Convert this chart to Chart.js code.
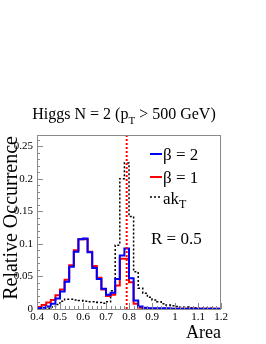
<!DOCTYPE html>
<html>
<head>
<meta charset="utf-8">
<script src="https://cdn.jsdelivr.net/npm/chart.js@4.4.0/dist/chart.umd.min.js"></script>
<style>
  html, body { margin: 0; padding: 0; background: #fff; }
</style>
</head>
<body>
<canvas id="myChart" width="266" height="344"></canvas>
<script>
// bin edges of the Area histogram (40 bins of 0.02)
const binEdges = [0.40, 0.42, 0.44, 0.46, 0.48, 0.50, 0.52, 0.54, 0.56, 0.58,
                  0.60, 0.62, 0.64, 0.66, 0.68, 0.70, 0.72, 0.74, 0.76, 0.78,
                  0.80, 0.82, 0.84, 0.86, 0.88, 0.90, 0.92, 0.94, 0.96, 0.98,
                  1.00, 1.02, 1.04, 1.06, 1.08, 1.10, 1.12, 1.14, 1.16, 1.18, 1.20];

const beta2 = [0.001, 0.002, 0.004, 0.008, 0.016, 0.027, 0.042, 0.065, 0.088, 0.107,
               0.108, 0.087, 0.063, 0.046, 0.031, 0.022, 0.025, 0.046, 0.082, 0.093,
               0.047, 0.013, 0.004, 0.002, 0.001, 0.001, 0.001, 0.001, 0.001, 0.0005,
               0.0005, 0.0005, 0.0005, 0.0005, 0.0005, 0.0005, 0.0005, 0.0005, 0.0005, 0.0005];

const beta1 = [0.003, 0.006, 0.010, 0.014, 0.021, 0.030, 0.045, 0.067, 0.090, 0.107,
               0.107, 0.088, 0.066, 0.048, 0.030, 0.020, 0.022, 0.036, 0.077, 0.077,
               0.041, 0.008, 0.002, 0.001, 0.0005, 0.0005, 0.0005, 0.0005, 0.0005, 0.0005,
               0.0005, 0.0005, 0.0005, 0.0005, 0.0005, 0.0005, 0.0005, 0.0005, 0.0005, 0.0005];

const akT = [0, 0, 0.001, 0.003, 0.007, 0.012, 0.015, 0.015, 0.014, 0.013,
             0.012, 0.011, 0.011, 0.010, 0.009, 0.011, 0.028, 0.098, 0.200, 0.224,
             0.142, 0.057, 0.032, 0.024, 0.018, 0.014, 0.011, 0.008, 0.006, 0.005,
             0.004, 0.003, 0.003, 0.002, 0.002, 0.001, 0.001, 0.001, 0.0005, 0.0005];

const seriesNames = ['\u03b2 = 2', '\u03b2 = 1', 'ak'];
const xTicks = [0.4, 0.5, 0.6, 0.7, 0.8, 0.9, 1.0, 1.1, 1.2];
const yTicks = [0, 0.05, 0.1, 0.15, 0.2, 0.25];
const areaLine = 0.79; // ~ pi * R^2 for R = 0.5
const yMax = 0.267;

const serif = '"Liberation Serif", "DejaVu Serif", serif';

// histogram outline: value i holds from binEdges[i] to binEdges[i+1]
// (stepped 'after' goes up at the previous point, then across to this one)
function toSteps(vals) {
    const pts = [{ x: binEdges[0], y: 0 }];
    vals.forEach((v, i) => pts.push({ x: binEdges[i + 1], y: v }));
    return pts;
}

// frame, inward ticks, title, axis titles and legend (ROOT look)
const rootLook = {
    id: 'rootLook',
    afterDraw(chart) {
        const ctx = chart.ctx;
        const a = chart.chartArea;
        const xs = chart.scales.x;
        const ys = chart.scales.y;
        ctx.save();

        ctx.strokeStyle = '#8a8a8a';
        ctx.lineWidth = 1;
        ctx.strokeRect(a.left + 0.5, a.top + 0.5, a.right - a.left - 1, a.bottom - a.top);

        ctx.beginPath();
        for (let v = 0; v <= yMax + 1e-9; v += 0.01) {
            const y = Math.round(ys.getPixelForValue(v)) + 0.5;
            const major = Math.abs(v / 0.05 - Math.round(v / 0.05)) < 1e-6;
            ctx.moveTo(a.left, y);
            ctx.lineTo(a.left + (major ? 6 : 3), y);
        }
        for (let v = 0.4; v <= 1.2 + 1e-9; v += 0.02) {
            const x = Math.round(xs.getPixelForValue(v)) + 0.5;
            const major = Math.abs(v / 0.1 - Math.round(v / 0.1)) < 1e-6;
            ctx.moveTo(x, a.bottom);
            ctx.lineTo(x, a.bottom - (major ? 6 : 3));
        }
        ctx.stroke();

        ctx.fillStyle = '#000';
        // title with subscript
        ctx.font = '16px ' + serif;
        const t1 = 'Higgs N = 2 (p', t3 = ' > 500 GeV)';
        const w1 = ctx.measureText(t1).width;
        const w3 = ctx.measureText(t3).width;
        ctx.font = '11px ' + serif;
        const w2 = ctx.measureText('T').width;
        let tx = 124 - (w1 + w2 + w3) / 2;
        ctx.textAlign = 'left';
        ctx.textBaseline = 'alphabetic';
        ctx.font = '16px ' + serif;
        ctx.fillText(t1, tx, 119);
        ctx.font = '11px ' + serif;
        ctx.fillText('T', tx + w1, 124);
        ctx.font = '16px ' + serif;
        ctx.fillText(t3, tx + w1 + w2, 119);

        // axis titles
        ctx.font = '18px ' + serif;
        ctx.textAlign = 'right';
        ctx.fillText('Area', a.right, 338);

        ctx.save();
        ctx.translate(17, a.top + 1);
        ctx.rotate(-Math.PI / 2);
        ctx.font = '20px ' + serif;
        ctx.textAlign = 'right';
        ctx.fillText('Relative Occurrence', 0, 0);
        ctx.restore();

        // legend
        const colors = ['#0000ff', '#ff0000', '#000000'];
        const rows = [160, 183, 204];
        const lineY = [154, 177, 197];
        ctx.font = '17px ' + serif;
        ctx.textAlign = 'left';
        for (let i = 0; i < seriesNames.length; i++) {
            ctx.strokeStyle = colors[i];
            ctx.lineWidth = i === 2 ? 1.5 : 2;
            ctx.setLineDash(i === 2 ? [2, 2] : []);
            ctx.beginPath();
            ctx.moveTo(150, lineY[i]);
            ctx.lineTo(162, lineY[i]);
            ctx.stroke();
            ctx.fillText(seriesNames[i], 163, rows[i]);
        }
        ctx.setLineDash([]);
        const akW = ctx.measureText('ak').width;
        ctx.font = '12px ' + serif;
        ctx.fillText('T', 163 + akW, rows[2] + 4);
        ctx.font = '17px ' + serif;
        ctx.fillText('R = 0.5', 151, 244);

        ctx.restore();
    }
};

const ctx = document.getElementById('myChart').getContext('2d');
const myChart = new Chart(ctx, {
    type: 'line',
    data: {
        datasets: [
            {
                label: 'pi R^2',
                data: [{ x: areaLine, y: 0 }, { x: areaLine, y: yMax }],
                borderColor: '#ff0000',
                borderWidth: 2,
                borderDash: [2, 2],
                pointRadius: 0
            },
            {
                label: seriesNames[0],
                data: toSteps(beta2),
                stepped: 'after',
                borderColor: '#0000ff',
                borderWidth: 2,
                pointRadius: 0
            },
            {
                label: seriesNames[1],
                data: toSteps(beta1),
                stepped: 'after',
                borderColor: '#ff0000',
                borderWidth: 2,
                pointRadius: 0
            },
            {
                label: 'akT',
                data: toSteps(akT),
                stepped: 'after',
                borderColor: '#000000',
                borderWidth: 1.5,
                borderDash: [2, 2],
                pointRadius: 0
            }
        ]
    },
    options: {
        responsive: false,
        animation: false,
        devicePixelRatio: 1,
        layout: { padding: { top: 135, right: 45, left: 0, bottom: 0 } },
        plugins: {
            legend: { display: false },
            tooltip: { enabled: false },
            title: { display: false }
        },
        scales: {
            x: {
                type: 'linear',
                min: 0.4,
                max: 1.2,
                grid: { display: false, drawTicks: false },
                border: { display: false },
                afterFit: function(scale) { scale.height = 35; },
                afterBuildTicks: function(scale) {
                    scale.ticks = xTicks.map(v => ({ value: v }));
                },
                ticks: {
                    padding: 2,
                    maxRotation: 0,
                    autoSkip: false,
                    color: '#000',
                    font: { family: serif, size: 11 },
                    callback: function(v) { return String(+v.toFixed(2)); }
                }
            },
            y: {
                type: 'linear',
                min: 0,
                max: yMax,
                grid: { display: false, drawTicks: false },
                border: { display: false },
                afterFit: function(scale) { scale.width = 37; },
                afterBuildTicks: function(scale) {
                    scale.ticks = yTicks.map(v => ({ value: v }));
                },
                ticks: {
                    padding: 4,
                    autoSkip: false,
                    color: '#000',
                    font: { family: serif, size: 11 },
                    callback: function(v) { return String(+v.toFixed(2)); }
                }
            }
        }
    },
    plugins: [rootLook]
});
</script>
</body>
</html>
